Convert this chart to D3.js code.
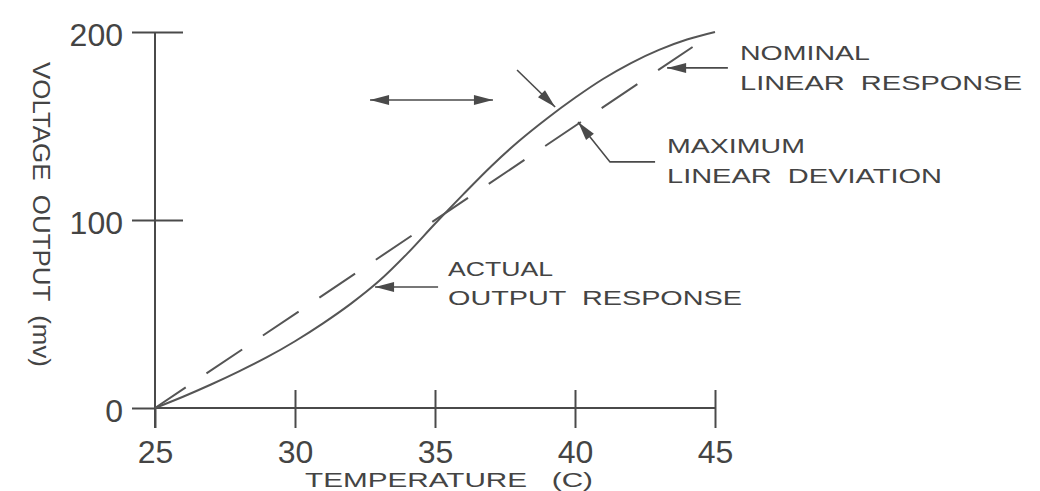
<!DOCTYPE html>
<html>
<head>
<meta charset="utf-8">
<script src="https://cdn.jsdelivr.net/npm/d3@7"></script>
<style>
  html, body { margin: 0; padding: 0; background: #fff; }
  svg { display: block; }
  text { font-family: "Liberation Sans", Arial, sans-serif; fill: #444; white-space: pre; }
</style>
</head>
<body>
<svg id="chart" width="1040" height="491"></svg>
<script>
// ---- data ----
const temperatures = [25, 26, 27, 28, 29, 30, 31, 32, 33, 34, 35, 36, 37, 38, 39, 40, 41, 42, 43, 44, 45];
const actualOutput = [0, 6, 12.5, 19.5, 27, 35.5, 45, 55.5, 67.5, 82, 98, 113.5, 128.5, 142, 154, 165, 175, 183.5, 190.5, 196, 200];
const nominalTemps = [25, 44.2];
const nominalOutput = [0, 192];
const xTicks = [25, 30, 35, 40, 45];
const yTicks = [0, 100, 200];
const xTitle = "TEMPERATURE   (C)";
const yTitle = "VOLTAGE  OUTPUT  (mv)";

// annotation anchors in data units
const spanArrow = [[32.68, 163.8], [37.07, 163.8]];
const curveArrow = [[37.93, 179.8], [39.29, 160.1]];
const deviationArrow = [[42.86, 130.9], [41.25, 130.9], [40.11, 152.1]];
const nominalArrow = [[45.46, 180.9], [43.29, 180.9]];
const actualArrow = [[35.11, 64.4], [32.86, 64.4]];

const svg = d3.select("#chart");
const ink = "#4a4a4a";

const x = d3.scaleLinear().domain([25, 45]).range([155, 715]);
const y = d3.scaleLinear().domain([0, 200]).range([408, 32]);

// axes
const yAxis = d3.axisLeft(y).tickValues(yTicks).tickSize(0).tickFormat(d => d);
const gy = svg.append("g").attr("transform", `translate(${x(25)},0)`).call(yAxis);
gy.select(".domain").remove();
gy.selectAll(".tick line").attr("x1", -23).attr("x2", d => d === 0 ? 0 : 28)
  .attr("stroke", ink).attr("stroke-width", 2);
gy.selectAll(".tick text").attr("x", -32).attr("dy", "0.42em")
  .style("font-size", "32px").style("font-family", "Liberation Sans, Arial, sans-serif").attr("fill", "#444");

const xAxis = d3.axisBottom(x).tickValues(xTicks).tickSize(0).tickFormat(d => d);
const gx = svg.append("g").attr("transform", `translate(0,${y(0)})`).call(xAxis);
gx.select(".domain").remove();
gx.selectAll(".tick line").attr("y1", d => d === 25 ? 0 : -18).attr("y2", 20)
  .attr("stroke", ink).attr("stroke-width", 2);
gx.selectAll(".tick text").attr("y", 55).attr("dy", 0)
  .style("font-size", "32px").style("font-family", "Liberation Sans, Arial, sans-serif").attr("fill", "#444");

// axis lines
svg.append("line").attr("x1", x(25)).attr("x2", x(25)).attr("y1", y(200)).attr("y2", y(0) + 20)
  .attr("stroke", ink).attr("stroke-width", 2);
svg.append("line").attr("x1", x(25)).attr("x2", x(45)).attr("y1", y(0)).attr("y2", y(0))
  .attr("stroke", ink).attr("stroke-width", 2);

// titles
svg.append("text").attr("x", 305).attr("y", 487)
  .attr("textLength", 288).attr("lengthAdjust", "spacingAndGlyphs")
  .style("font-size", "21px").text(xTitle);
svg.append("text").attr("transform", "translate(33,62) rotate(90)")
  .attr("textLength", 305).attr("lengthAdjust", "spacingAndGlyphs")
  .style("font-size", "23px").text(yTitle);

// lines
const line = d3.line().x(d => x(d[0])).y(d => y(d[1]));
svg.append("path")
  .datum(nominalTemps.map((t, i) => [t, nominalOutput[i]]))
  .attr("d", line).attr("fill", "none").attr("stroke", "#555").attr("stroke-width", 2)
  .attr("stroke-dasharray", "43,25").attr("stroke-dashoffset", 6);
svg.append("path")
  .datum(temperatures.map((t, i) => [t, actualOutput[i]]))
  .attr("d", d3.line().curve(d3.curveCatmullRom).x(d => x(d[0])).y(d => y(d[1])))
  .attr("fill", "none").attr("stroke", "#555").attr("stroke-width", 2);

// arrows
function arrow(points, both) {
  const px = points.map(p => [x(p[0]), y(p[1])]);
  svg.append("path").attr("d", d3.line()(px)).attr("fill", "none")
    .attr("stroke", ink).attr("stroke-width", 1.6);
  const head = (tip, from) => {
    const a = Math.atan2(tip[1] - from[1], tip[0] - from[0]);
    const L = 19, W = 5;
    const bx = tip[0] - L * Math.cos(a), by = tip[1] - L * Math.sin(a);
    const nx = -Math.sin(a) * W, ny = Math.cos(a) * W;
    svg.append("path").attr("d", `M${tip[0]},${tip[1]}L${bx + nx},${by + ny}L${bx - nx},${by - ny}Z`)
      .attr("fill", ink);
  };
  head(px[px.length - 1], px[px.length - 2]);
  if (both) head(px[0], px[1]);
}
arrow(spanArrow, true);
arrow(curveArrow, false);
arrow(deviationArrow, false);
arrow(nominalArrow, false);
arrow(actualArrow, false);

// annotation labels
const labels = [
  { t: "NOMINAL", x: 740, y: 60, w: 130 },
  { t: "LINEAR  RESPONSE", x: 740, y: 90, w: 282 },
  { t: "MAXIMUM", x: 667, y: 153, w: 138 },
  { t: "LINEAR  DEVIATION", x: 667, y: 183, w: 275 },
  { t: "ACTUAL", x: 448, y: 276, w: 105 },
  { t: "OUTPUT  RESPONSE", x: 448, y: 305, w: 294 }
];
svg.selectAll("text.lab").data(labels).join("text").attr("class", "lab")
  .attr("x", d => d.x).attr("y", d => d.y)
  .attr("textLength", d => d.w).attr("lengthAdjust", "spacingAndGlyphs")
  .style("font-size", "21px").text(d => d.t);
</script>
</body>
</html>
